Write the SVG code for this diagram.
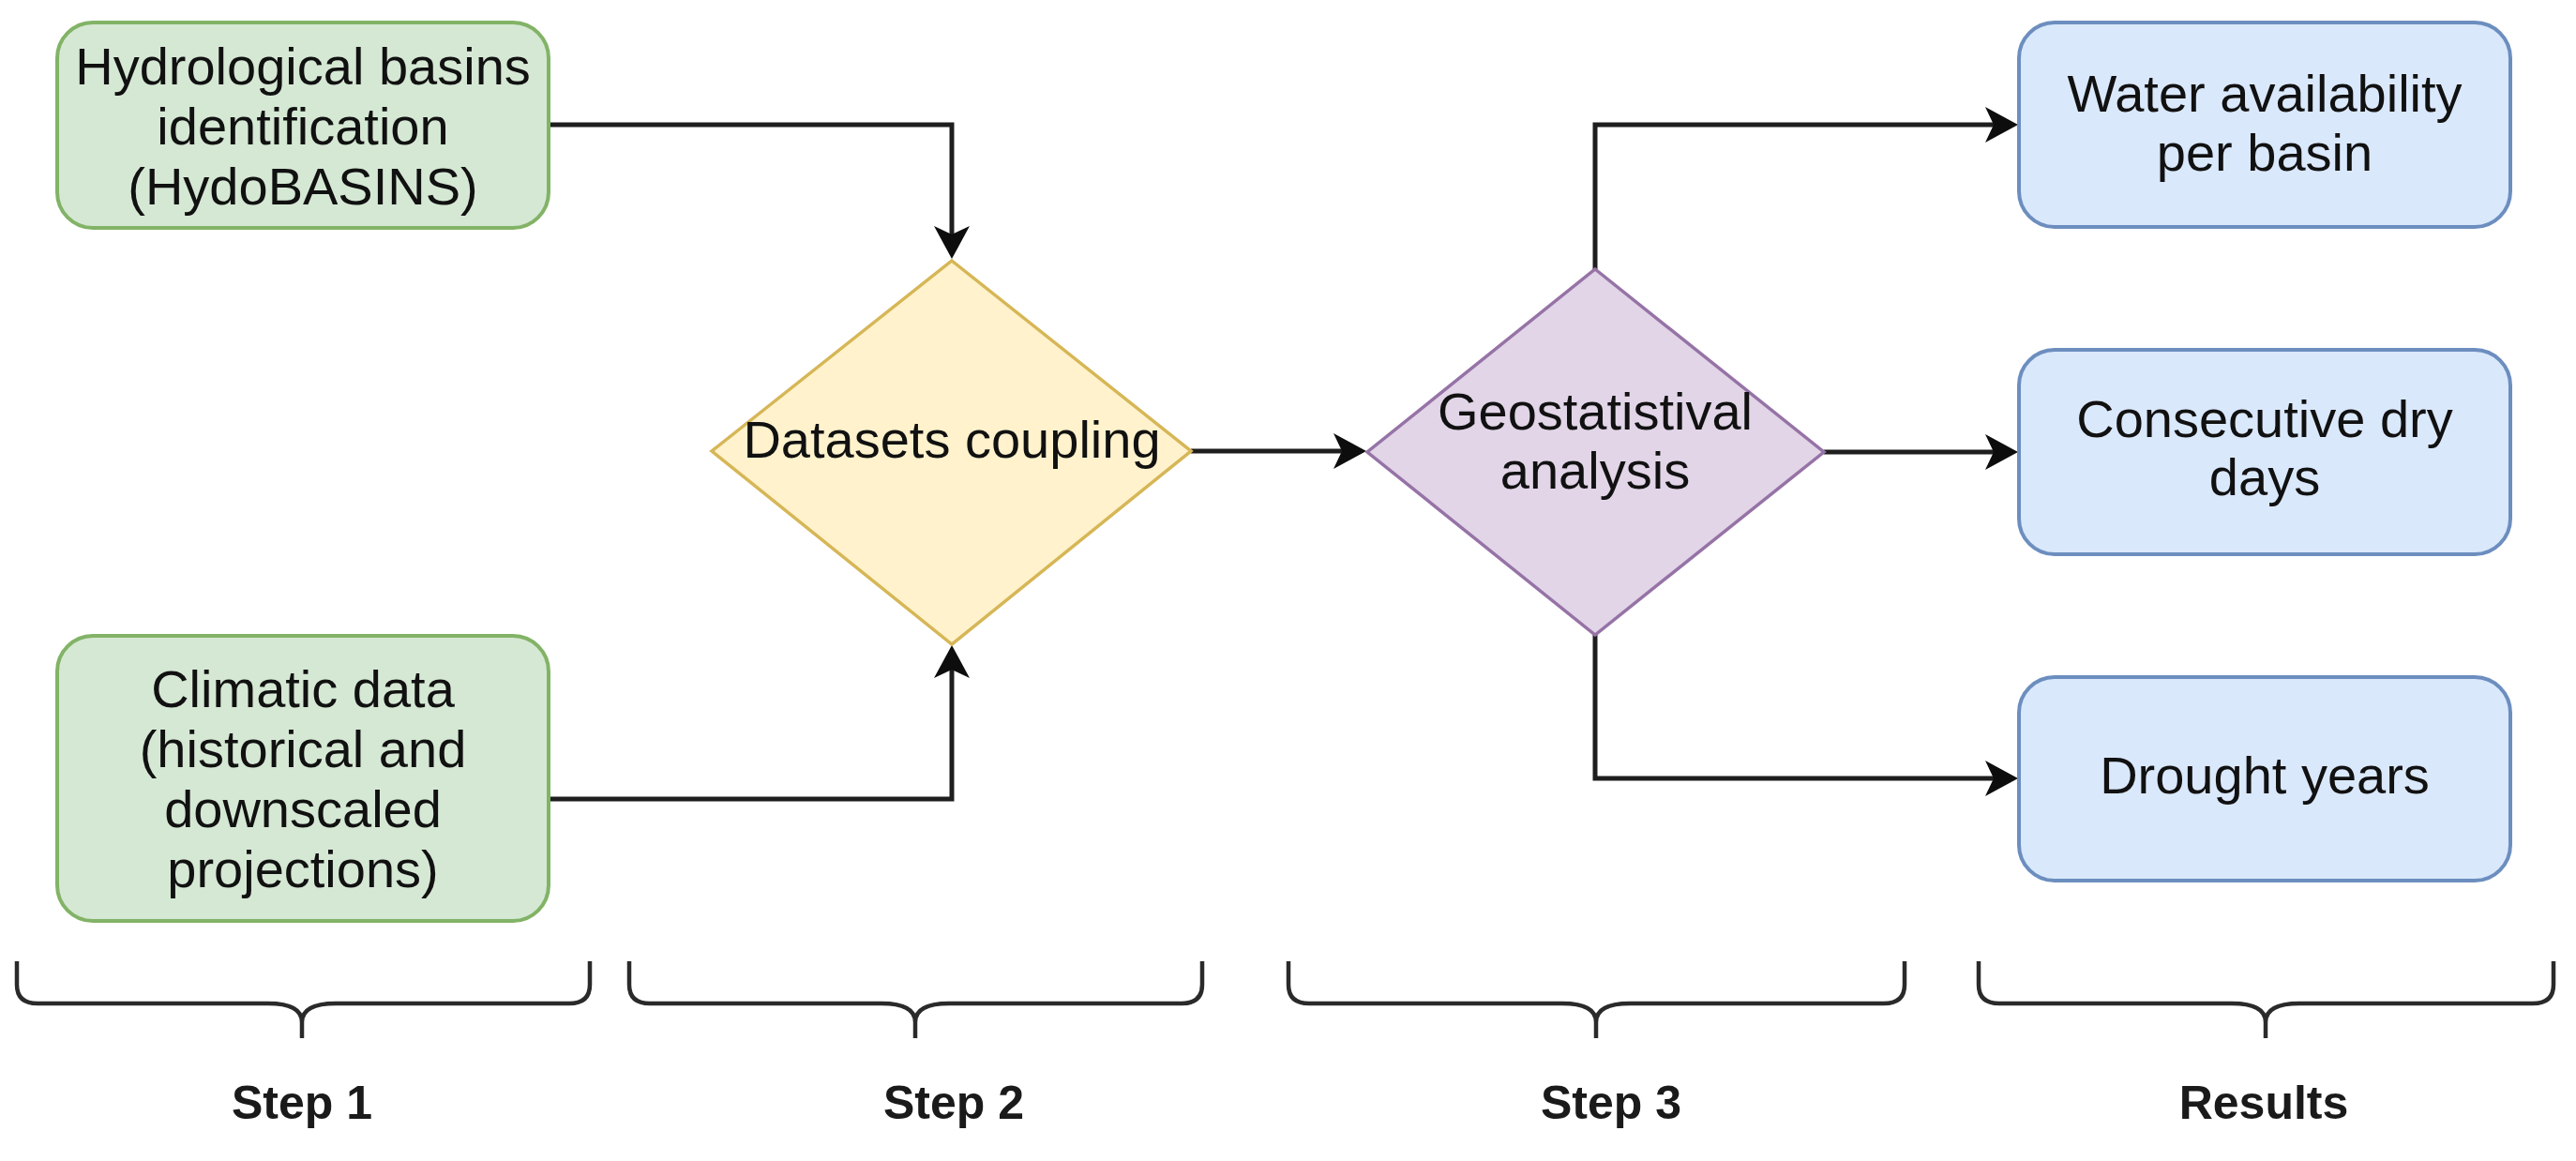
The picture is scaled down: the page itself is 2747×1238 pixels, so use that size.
<svg xmlns="http://www.w3.org/2000/svg" width="2747" height="1238" viewBox="0 0 2747 1238">
  <style>
    .t { font-family: "Liberation Sans", Arial, Helvetica, sans-serif; font-size: 56px; fill: #111111; text-anchor: middle; }
    .lbl { font-family: "Liberation Sans", Arial, Helvetica, sans-serif; font-size: 50px; font-weight: bold; fill: #1a1a1a; text-anchor: middle; }
    .green { fill: #d5e8d4; stroke: #82b366; stroke-width: 4; }
    .yellow { fill: #fff2cc; stroke: #d6b656; stroke-width: 3.5; }
    .purple { fill: #e1d5e7; stroke: #9673a6; stroke-width: 3.5; }
    .blue { fill: #dae8fc; stroke: #6c8ebf; stroke-width: 4; }
    .conn { fill: none; stroke: #1e1e1e; stroke-width: 5; }
    .brace { fill: none; stroke: #2a2a2a; stroke-width: 4.5; }
  </style>
  <defs>
    <marker id="arrow" markerUnits="userSpaceOnUse" markerWidth="38" markerHeight="40" refX="24" refY="19" orient="auto" overflow="visible">
      <path d="M0,0 L35,19 L0,38 L9,19 Z" fill="#0d0d0d"/>
    </marker>
  </defs>
  <rect width="2747" height="1238" fill="#ffffff"/>

  <g id="connectors">
    <path class="conn" d="M585,133 H1015 V265" marker-end="url(#arrow)"/>
    <path class="conn" d="M585,852 H1015 V699" marker-end="url(#arrow)"/>
    <path class="conn" d="M1270,481 H1446" marker-end="url(#arrow)"/>
    <path class="conn" d="M1701,287 V133 H2141" marker-end="url(#arrow)"/>
    <path class="conn" d="M1945,482 H2141" marker-end="url(#arrow)"/>
    <path class="conn" d="M1701,677 V830 H2141" marker-end="url(#arrow)"/>
  </g>

  <g id="hydro">
    <rect class="green" x="61" y="24" width="524" height="219" rx="38" ry="38"/>
    <text class="t" x="323" y="90">Hydrological basins</text>
    <text class="t" x="323" y="154">identification</text>
    <text class="t" x="323" y="218">(HydoBASINS)</text>
  </g>

  <g id="climatic">
    <rect class="green" x="61" y="678" width="524" height="304" rx="38" ry="38"/>
    <text class="t" x="323" y="754">Climatic data</text>
    <text class="t" x="323" y="818">(historical and</text>
    <text class="t" x="323" y="882">downscaled</text>
    <text class="t" x="323" y="946">projections)</text>
  </g>

  <g id="coupling">
    <polygon class="yellow" points="1015,278 1270,481 1015,687 759,481"/>
    <text class="t" x="1015" y="488">Datasets coupling</text>
  </g>

  <g id="geostat">
    <polygon class="purple" points="1701,287 1945,482 1701,677 1458,482"/>
    <text class="t" x="1701" y="458">Geostatistival</text>
    <text class="t" x="1701" y="521">analysis</text>
  </g>

  <g id="water">
    <rect class="blue" x="2153" y="24" width="524" height="218" rx="38" ry="38"/>
    <text class="t" x="2415" y="119">Water availability</text>
    <text class="t" x="2415" y="182">per basin</text>
  </g>

  <g id="dry">
    <rect class="blue" x="2153" y="373" width="524" height="218" rx="38" ry="38"/>
    <text class="t" x="2415" y="466">Consecutive dry</text>
    <text class="t" x="2415" y="528">days</text>
  </g>

  <g id="drought">
    <rect class="blue" x="2153" y="722" width="524" height="217" rx="38" ry="38"/>
    <text class="t" x="2415" y="846">Drought years</text>
  </g>

  <g id="brackets">
    <path class="brace" d="M18,1025 V1050 Q18,1070 40,1070 H286 Q322,1070 322,1090 V1107 M322,1090 Q322,1070 358,1070 H607 Q629,1070 629,1050 V1025"/>
    <path class="brace" d="M671,1025 V1050 Q671,1070 693,1070 H940 Q976,1070 976,1090 V1107 M976,1090 Q976,1070 1012,1070 H1260 Q1282,1070 1282,1050 V1025"/>
    <path class="brace" d="M1374,1025 V1050 Q1374,1070 1396,1070 H1666 Q1702,1070 1702,1090 V1107 M1702,1090 Q1702,1070 1738,1070 H2009 Q2031,1070 2031,1050 V1025"/>
    <path class="brace" d="M2110,1025 V1050 Q2110,1070 2132,1070 H2380 Q2416,1070 2416,1090 V1107 M2416,1090 Q2416,1070 2452,1070 H2701 Q2723,1070 2723,1050 V1025"/>
  </g>

  <g id="labels">
    <text class="lbl" x="322" y="1193">Step 1</text>
    <text class="lbl" x="1017" y="1193">Step 2</text>
    <text class="lbl" x="1718" y="1193">Step 3</text>
    <text class="lbl" x="2414" y="1193">Results</text>
  </g>
</svg>
